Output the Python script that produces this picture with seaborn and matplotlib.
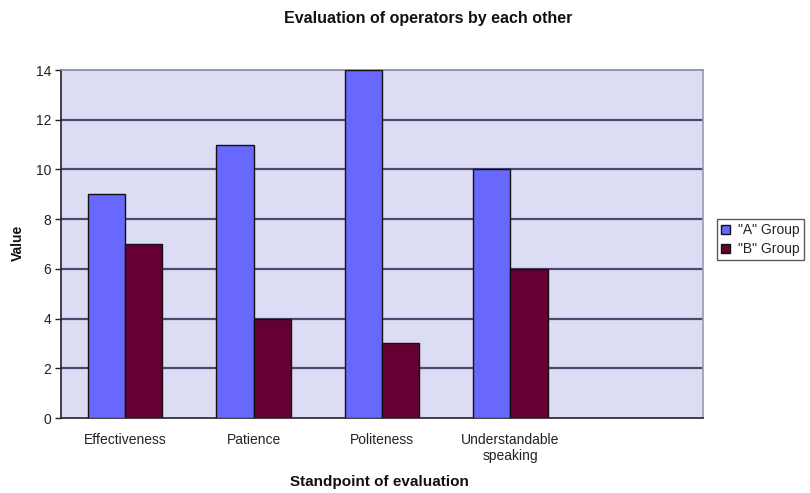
import matplotlib
matplotlib.use("Agg")
import matplotlib.pyplot as plt
from matplotlib.ticker import FixedLocator
import seaborn as sns
import pandas as pd
import numpy as np

# Ratings per standpoint for the two operator groups
categories = ["Effectiveness", "Patience", "Politeness", "Understandable\nspeaking"]
group_a = [9, 11, 14, 10]
group_b = [7, 4, 3, 6]
series_names = ['"A" Group', '"B" Group']
y_ticks = [0, 2, 4, 6, 8, 10, 12, 14]

df = pd.DataFrame({
    "category": categories * 2,
    "value": group_a + group_b,
    "group": [series_names[0]] * len(categories) + [series_names[1]] * len(categories),
})

sns.set_theme(style="white")
plt.rcParams["font.family"] = ["Liberation Sans", "DejaVu Sans"]

fig = plt.figure(figsize=(8.1, 4.93), dpi=100)
ax = fig.add_axes([61 / 810, 1 - 418 / 493, (703 - 61) / 810, (418 - 70) / 493])
ax.set_facecolor("#dcdcf4")

palette = {series_names[0]: "#6868ff", series_names[1]: "#660033"}
sns.barplot(data=df, x="category", y="value", hue="group", order=categories,
            palette=palette, width=0.58, edgecolor="#111111", linewidth=1.0,
            saturation=1, ax=ax, legend=True, zorder=3)

# Excel-style extent: one empty category slot on the right
ax.set_xlim(-0.5, len(categories) + 0.5)
ax.set_ylim(0, 14)

ax.yaxis.set_major_locator(FixedLocator(y_ticks))
for y in y_ticks[1:-1]:
    ax.axhline(y, color="#4a4a70", lw=1.6, zorder=1)

ax.set_xticks(range(len(categories)))
ax.set_xticklabels(categories, fontsize=10, color="#222222", linespacing=1.15)
ax.xaxis.set_minor_locator(FixedLocator(np.arange(-0.5, len(categories) + 1, 1.0)))
ax.tick_params(axis="x", which="major", length=0, pad=11)
ax.tick_params(axis="x", which="minor", length=4, width=1, color="#222222", direction="out")
ax.tick_params(axis="y", which="major", length=4, width=1, color="#222222",
               direction="out", labelsize=10, labelcolor="#222222", pad=3)
ax.tick_params(axis="both", bottom=True, left=True)

for side in ["left", "bottom"]:
    ax.spines[side].set_color("#222222")
    ax.spines[side].set_linewidth(1.2)
ax.spines["top"].set_color("#8888a0")
ax.spines["top"].set_linestyle((0, (2, 1)))
ax.spines["top"].set_linewidth(1.2)
ax.spines["right"].set_color("#9a9aaa")
ax.spines["right"].set_linewidth(1.2)

ax.set_xlabel("")
ax.set_ylabel("")
fig.text(18 / 810, 1 - 243 / 493, "Value", rotation=90, ha="center", va="center",
         fontsize=10, fontweight="bold", color="#111111")
fig.text(379 / 810, 1 - 482 / 493, "Standpoint of evaluation", ha="center", va="center",
         fontsize=11, fontweight="bold", color="#111111")
fig.text(428 / 810, 1 - 18 / 493, "Evaluation of operators by each other", ha="center",
         va="center", fontsize=11.5, fontweight="bold", color="#111111")

handles, labels = ax.get_legend_handles_labels()
ax.get_legend().remove()
leg = fig.legend(handles, labels, loc="upper left", bbox_to_anchor=(717 / 810, 1 - 219 / 493),
                 fontsize=10, frameon=True, fancybox=False, handlelength=0.6,
                 handleheight=0.6, handletextpad=0.6, borderpad=0.3, labelspacing=0.35,
                 borderaxespad=0)
leg.get_frame().set_edgecolor("#333333")
leg.get_frame().set_linewidth(1.0)

fig.savefig("out.png", dpi=100, facecolor="white")
